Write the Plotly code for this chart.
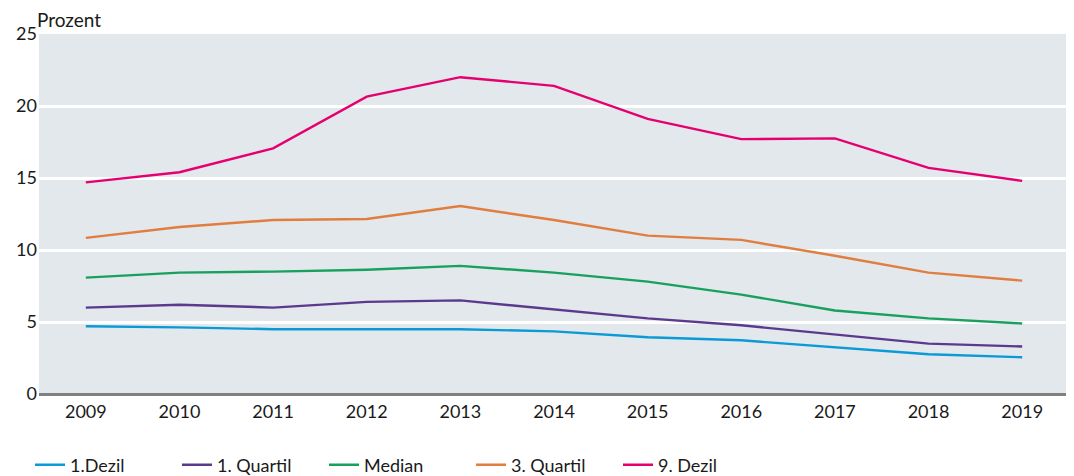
import plotly.graph_objects as go

years = ["2009", "2010", "2011", "2012", "2013", "2014", "2015", "2016", "2017", "2018", "2019"]
dezil1 = [4.7, 4.63, 4.5, 4.5, 4.5, 4.35, 3.94, 3.73, 3.25, 2.76, 2.55]
quartil1 = [6.0, 6.2, 6.0, 6.4, 6.5, 5.9, 5.25, 4.77, 4.14, 3.5, 3.3]
median = [8.08, 8.43, 8.5, 8.63, 8.9, 8.43, 7.8, 6.9, 5.8, 5.25, 4.9]
quartil3 = [10.84, 11.6, 12.08, 12.15, 13.05, 12.08, 11.0, 10.7, 9.6, 8.43, 7.87]
dezil9 = [14.7, 15.4, 17.06, 20.65, 22.0, 21.4, 19.1, 17.7, 17.75, 15.7, 14.8]

series = [
    ("1.Dezil", dezil1, "#0a9ad6"),
    ("1. Quartil", quartil1, "#5b3a8e"),
    ("Median", median, "#17a05e"),
    ("3. Quartil", quartil3, "#e07d3f"),
    ("9. Dezil", dezil9, "#e6006f"),
]

fig = go.Figure()
for name, vals, col in series:
    fig.add_trace(go.Scatter(x=years, y=vals, name=name, mode="lines",
                             line=dict(color=col, width=2.4)))

W, H = 1066, 468  # page body has an 8px margin
fig.update_layout(
    width=W, height=H,
    margin=dict(l=31, r=5, t=26, b=82, autoexpand=False),
    plot_bgcolor="#e3e8ec",
    paper_bgcolor="white",
    font=dict(family="Lato, Noto Sans, sans-serif", size=18, color="#1a1a1a"),
    showlegend=True,
    legend=dict(orientation="h", x=22 / W, xref="container", xanchor="left",
                y=11 / H, yref="container", yanchor="middle",
                font=dict(size=18), itemwidth=30, tracegroupgap=0,
                entrywidth=102, entrywidthmode="pixels"),
    annotations=[dict(text="Prozent", x=0, y=1.0, xref="paper", yref="paper",
                      xanchor="left", yanchor="bottom", showarrow=False,
                      xshift=-4, yshift=1, font=dict(size=19))],
)
fig.update_xaxes(type="category", range=[-0.5, 10.5], showgrid=False, ticks="",
                 tickfont=dict(size=18), showline=False, automargin=False,
                 ticklabelstandoff=5)
fig.update_yaxes(range=[0, 25], dtick=5, showgrid=True, gridcolor="white", gridwidth=2.5,
                 zeroline=True, zerolinecolor="#808080", zerolinewidth=2.5,
                 tickfont=dict(size=18), ticks="", ticklabelstandoff=1, automargin=False)

fig.write_html("out.html")
